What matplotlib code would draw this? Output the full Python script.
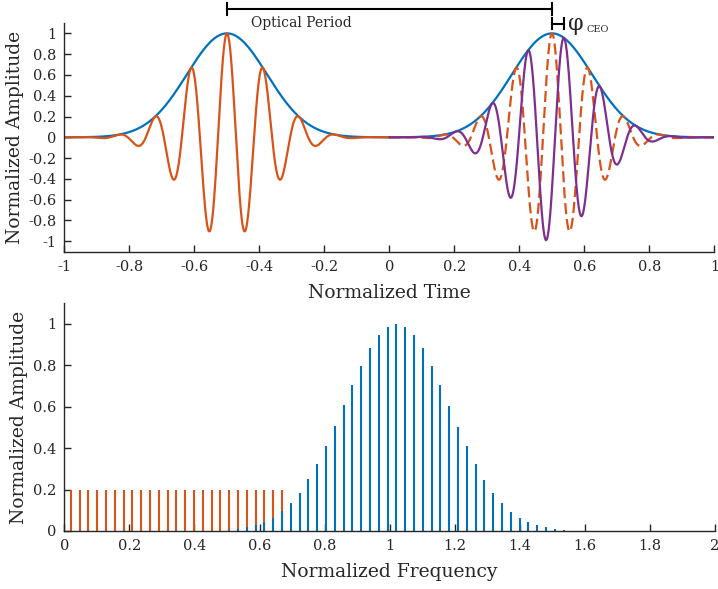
import numpy as np
import matplotlib
matplotlib.use("Agg")
import matplotlib.pyplot as plt
from matplotlib.ticker import FuncFormatter

# --- time domain: pulse parameters ---
pulse_centers = [-0.5, 0.5]      # envelope peaks (normalized time)
env_rate = 33.0                  # envelope exp(-a t^2), from 0.66 at one period
carrier_period = 0.111           # spacing of carrier peaks
ceo_shift = 0.037                # purple peak offset from envelope peak

# --- frequency domain: comb teeth ---
f_offset = 0.0197                # first tooth
f_rep = 0.02705                  # tooth spacing
orange_n = list(range(0, 25))
orange_amp = [0.2] * 25
blue_n = list(range(18, 57))
blue_amp = [0.005, 0.008, 0.018, 0.029, 0.043, 0.064, 0.097, 0.135, 0.185, 0.25,
            0.324, 0.41, 0.506, 0.607, 0.707, 0.799, 0.882, 0.945, 0.986, 1.0,
            0.986, 0.945, 0.882, 0.799, 0.705, 0.605, 0.504, 0.409, 0.322, 0.248,
            0.184, 0.134, 0.093, 0.064, 0.042, 0.027, 0.018, 0.010, 0.005]

BLUE = "#0072BD"
ORANGE = "#D95319"
PURPLE = "#7E2F8E"
DARK = "#262626"

plt.rcParams['font.family'] = ['DejaVu Serif']
plt.rcParams['axes.unicode_minus'] = False

def envelope(t, c):
    return np.exp(-env_rate * (t - c) ** 2)

w = 2 * np.pi / carrier_period
t = np.linspace(-1, 1, 4001)
t_left = t[t <= 0]
t_right = t[t >= 0]

env = envelope(t, pulse_centers[0]) + envelope(t, pulse_centers[1])
orange_left = envelope(t_left, pulse_centers[0]) * np.cos(w * (t_left - pulse_centers[0]))
orange_right = envelope(t_right, pulse_centers[1]) * np.cos(w * (t_right - pulse_centers[1]))
purple_right = envelope(t_right, pulse_centers[1]) * np.cos(w * (t_right - pulse_centers[1] - ceo_shift))

fmt = FuncFormatter(lambda v, _: "0" if abs(v) < 1e-9 else f"{v:g}")

def style(ax):
    for s in ["top", "right"]:
        ax.spines[s].set_visible(False)
    for s in ["left", "bottom"]:
        ax.spines[s].set_color(DARK)
        ax.spines[s].set_linewidth(1.0)
    ax.tick_params(direction="in", length=5, width=1.0, color=DARK,
                   labelsize=10.5, labelcolor=DARK, pad=6)
    ax.xaxis.set_major_formatter(fmt)
    ax.yaxis.set_major_formatter(fmt)

fig = plt.figure(figsize=(7.18, 5.89), dpi=100)
ax1 = fig.add_axes([0.0898, 0.5727, 0.9053, 0.3883])
ax2 = fig.add_axes([0.0896, 0.0985, 0.9062, 0.3866])

# top panel
ax1.plot(t, env, color=BLUE, lw=1.6)
ax1.plot(t_left, orange_left, color=ORANGE, lw=1.6)
ax1.plot(t_right, orange_right, color=ORANGE, lw=1.6, dashes=(5, 2.2))
ax1.plot(t_right, purple_right, color=PURPLE, lw=1.6)
ax1.set_xlim(-1, 1)
ax1.set_ylim(-1.1, 1.1)
ax1.set_xticks(np.round(np.arange(-1, 1.01, 0.2), 1))
ax1.set_yticks(np.round(np.arange(-1, 1.01, 0.2), 1))
style(ax1)
ax1.set_xlabel("Normalized Time", fontsize=13.5, color=DARK, labelpad=7)
ax1.set_ylabel("Normalized Amplitude", fontsize=13.5, color=DARK, labelpad=3)

# annotation brackets
yb = 1.239
ax1.plot([pulse_centers[0], pulse_centers[1]], [yb, yb], color="k", lw=1.5, clip_on=False)
for xc in pulse_centers:
    ax1.plot([xc, xc], [1.175, 1.295], color="k", lw=1.5, clip_on=False)
ax1.text(-0.27, 1.097, "Optical Period", fontsize=10, color=DARK,
         ha="center", va="center", clip_on=False)
yc = 1.094
x0, x1 = pulse_centers[1], pulse_centers[1] + ceo_shift
ax1.plot([x0, x1], [yc, yc], color="k", lw=1.5, clip_on=False)
for xc in (x0, x1):
    ax1.plot([xc, xc], [1.045, 1.145], color="k", lw=1.5, clip_on=False)
ax1.text(0.549, 1.088, "φ", fontsize=16, color=DARK, ha="left", va="center", clip_on=False)
ax1.text(0.605, 1.013, "CEO", fontsize=7, color=DARK, ha="left", va="baseline", clip_on=False)

# bottom panel
f_orange = [f_offset + n * f_rep for n in orange_n]
f_blue = [f_offset + n * f_rep for n in blue_n]
ax2.vlines(f_orange, 0, orange_amp, color=ORANGE, lw=1.5)
ax2.vlines(f_blue, 0, blue_amp, color=BLUE, lw=1.5)
ax2.set_xlim(0, 2)
ax2.set_ylim(0, 1.1)
ax2.set_xticks(np.round(np.arange(0, 2.01, 0.2), 1))
ax2.set_yticks(np.round(np.arange(0, 1.01, 0.2), 1))
style(ax2)
ax2.set_xlabel("Normalized Frequency", fontsize=13.5, color=DARK, labelpad=7)
ax2.set_ylabel("Normalized Amplitude", fontsize=13.5, color=DARK, labelpad=3)

fig.savefig("out.png", dpi=100)
